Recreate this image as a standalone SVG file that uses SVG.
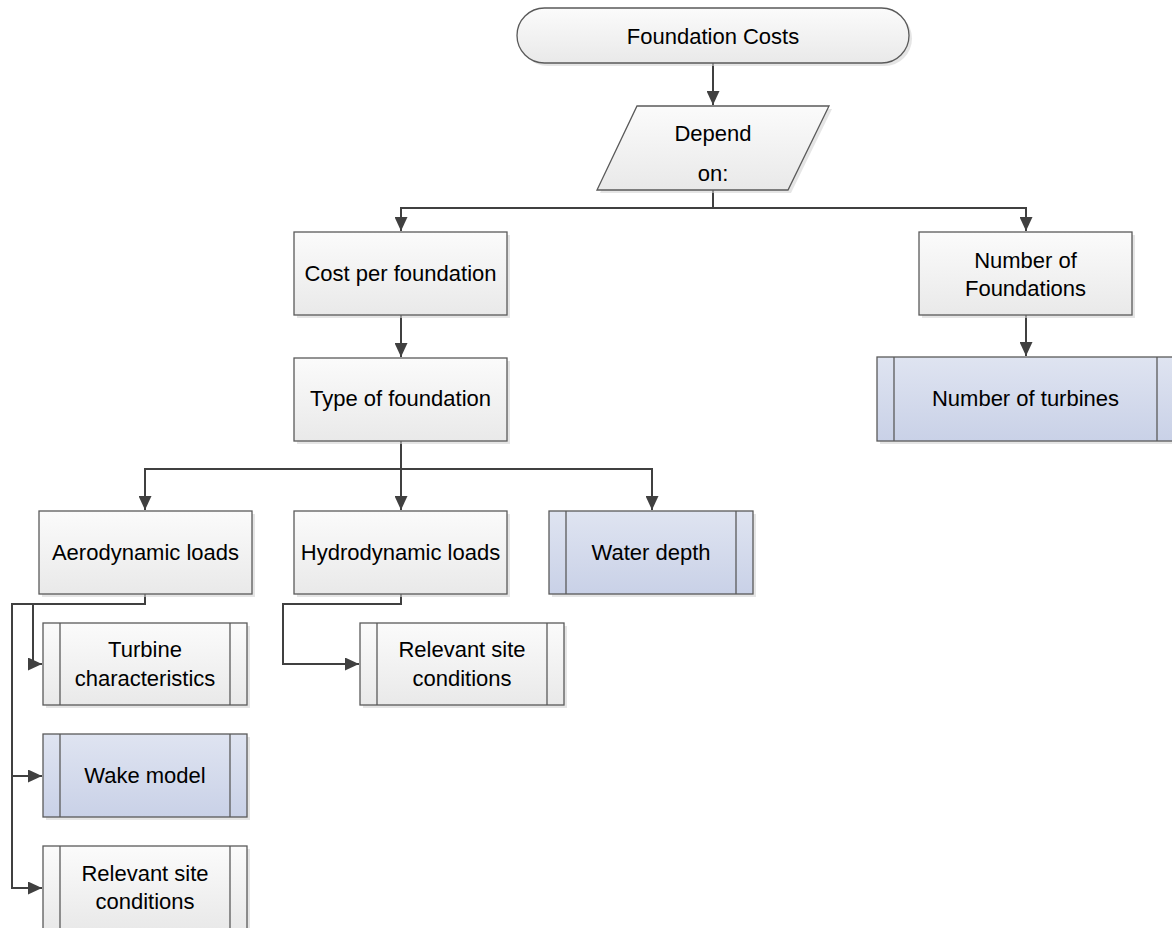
<svg xmlns="http://www.w3.org/2000/svg" width="1172" height="928" viewBox="0 0 1172 928">
<defs>
<linearGradient id="gGray" x1="0" y1="0" x2="0" y2="1">
<stop offset="0" stop-color="#fbfbfb"/>
<stop offset="1" stop-color="#e9e9e9"/>
</linearGradient>
<linearGradient id="gBlue" x1="0" y1="0" x2="0" y2="1">
<stop offset="0" stop-color="#dfe4f1"/>
<stop offset="1" stop-color="#c9d1e7"/>
</linearGradient>
<marker id="arr" markerUnits="userSpaceOnUse" markerWidth="15" markerHeight="13" viewBox="0 0 15 13" refX="14" refY="6.5" orient="auto">
<path d="M0,0 L14,6.5 L0,13 Z" fill="#404040"/>
</marker>
</defs>
<style>
.box{fill:url(#gGray);stroke:#5a5a5a;stroke-width:1.3}
.blue{fill:url(#gBlue);stroke:#5a5a5a;stroke-width:1.3}
.sh{fill:#d4d4d4;opacity:0.6}
.in{stroke:#5a5a5a;stroke-width:1.3}
.t{font-family:"Liberation Sans",Arial,sans-serif;font-size:22px;fill:#000;text-anchor:middle}
.c{fill:none;stroke:#404040;stroke-width:2}
</style>
<rect width="1172" height="928" fill="#fff"/>

<g id="connectors">
<path class="c" d="M713,63 V105" marker-end="url(#arr)"/>
<path class="c" d="M713,190 V208 H401 V231" marker-end="url(#arr)"/>
<path class="c" d="M713,208 H1026 V231" marker-end="url(#arr)"/>
<path class="c" d="M401,315 V357" marker-end="url(#arr)"/>
<path class="c" d="M1026,315 V356" marker-end="url(#arr)"/>
<path class="c" d="M401,441 V469 H145 V510" marker-end="url(#arr)"/>
<path class="c" d="M401,469 V510" marker-end="url(#arr)"/>
<path class="c" d="M401,469 H652 V510" marker-end="url(#arr)"/>
<path class="c" d="M401,594 V604 H283 V664 H359" marker-end="url(#arr)"/>
<path class="c" d="M145,594 V604 H12 V888 H42" marker-end="url(#arr)"/>
<path class="c" d="M33,604 V664 H42" marker-end="url(#arr)"/>
<path class="c" d="M12,776 H42" marker-end="url(#arr)"/>
</g>

<g id="foundation-costs">
<rect class="sh" x="520" y="11" width="392" height="55" rx="27.5"/>
<rect class="box" x="517" y="8" width="392" height="55" rx="27.5"/>
<text class="t" x="713" y="44">Foundation Costs</text>
</g>

<g id="depend-on">
<polygon class="sh" points="640,109 832,109 791,193 600,193"/>
<polygon class="box" points="637,106 829,106 788,190 597,190"/>
<text class="t" x="713" y="141">Depend</text>
<text class="t" x="713" y="181">on:</text>
</g>

<g id="cost-per-foundation">
<rect class="sh" x="297" y="235" width="213" height="83"/>
<rect class="box" x="294" y="232" width="213" height="83"/>
<text class="t" x="400.5" y="281">Cost per foundation</text>
</g>

<g id="number-of-foundations">
<rect class="sh" x="922" y="235" width="213" height="83"/>
<rect class="box" x="919" y="232" width="213" height="83"/>
<text class="t" x="1025.5" y="268">Number of</text>
<text class="t" x="1025.5" y="296">Foundations</text>
</g>

<g id="type-of-foundation">
<rect class="sh" x="297" y="361" width="213" height="83"/>
<rect class="box" x="294" y="358" width="213" height="83"/>
<text class="t" x="400.5" y="406">Type of foundation</text>
</g>

<g id="number-of-turbines">
<rect class="sh" x="880" y="360" width="297" height="84"/>
<rect class="blue" x="877" y="357" width="297" height="84"/>
<line class="in" x1="894" y1="357" x2="894" y2="441"/>
<line class="in" x1="1157" y1="357" x2="1157" y2="441"/>
<text class="t" x="1025.5" y="406">Number of turbines</text>
</g>

<g id="aerodynamic-loads">
<rect class="sh" x="42" y="514" width="213" height="83"/>
<rect class="box" x="39" y="511" width="213" height="83"/>
<text class="t" x="145.5" y="560">Aerodynamic loads</text>
</g>

<g id="hydrodynamic-loads">
<rect class="sh" x="297" y="514" width="213" height="83"/>
<rect class="box" x="294" y="511" width="213" height="83"/>
<text class="t" x="400.5" y="560">Hydrodynamic loads</text>
</g>

<g id="water-depth">
<rect class="sh" x="552" y="514" width="204" height="83"/>
<rect class="blue" x="549" y="511" width="204" height="83"/>
<line class="in" x1="566" y1="511" x2="566" y2="594"/>
<line class="in" x1="736" y1="511" x2="736" y2="594"/>
<text class="t" x="651" y="560">Water depth</text>
</g>

<g id="turbine-characteristics">
<rect class="sh" x="46" y="626" width="204" height="82"/>
<rect class="box" x="43" y="623" width="204" height="82"/>
<line class="in" x1="60" y1="623" x2="60" y2="705"/>
<line class="in" x1="230" y1="623" x2="230" y2="705"/>
<text class="t" x="145" y="657">Turbine</text>
<text class="t" x="145" y="686">characteristics</text>
</g>

<g id="relevant-site-conditions-hydro">
<rect class="sh" x="363" y="626" width="204" height="82"/>
<rect class="box" x="360" y="623" width="204" height="82"/>
<line class="in" x1="377" y1="623" x2="377" y2="705"/>
<line class="in" x1="547" y1="623" x2="547" y2="705"/>
<text class="t" x="462" y="657">Relevant site</text>
<text class="t" x="462" y="686">conditions</text>
</g>

<g id="wake-model">
<rect class="sh" x="46" y="737" width="204" height="83"/>
<rect class="blue" x="43" y="734" width="204" height="83"/>
<line class="in" x1="60" y1="734" x2="60" y2="817"/>
<line class="in" x1="230" y1="734" x2="230" y2="817"/>
<text class="t" x="145" y="783">Wake model</text>
</g>

<g id="relevant-site-conditions-aero">
<rect class="sh" x="46" y="849" width="204" height="83"/>
<rect class="box" x="43" y="846" width="204" height="83"/>
<line class="in" x1="60" y1="846" x2="60" y2="929"/>
<line class="in" x1="230" y1="846" x2="230" y2="929"/>
<text class="t" x="145" y="881">Relevant site</text>
<text class="t" x="145" y="909">conditions</text>
</g>
</svg>
